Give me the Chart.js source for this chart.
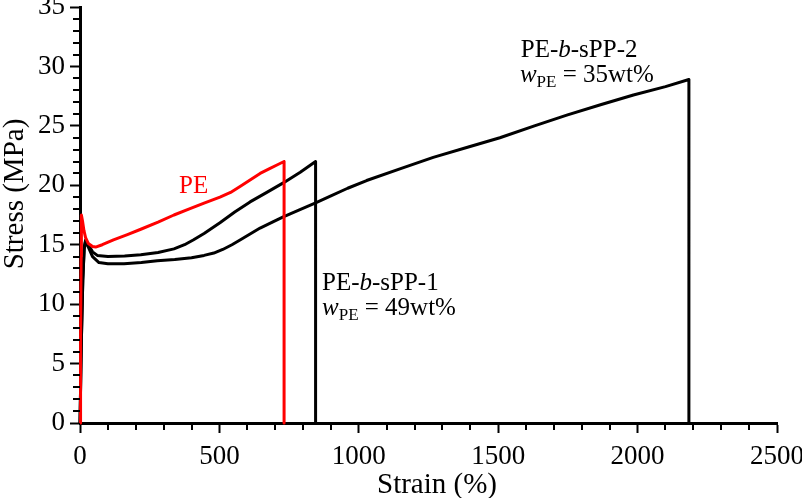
<!DOCTYPE html>
<html>
<head>
<meta charset="utf-8">
<script src="https://cdn.jsdelivr.net/npm/chart.js@4.4.0/dist/chart.umd.min.js"></script>
<style>
    body { margin: 0; background: #fff; }
    canvas { display: block; }
</style>
</head>
<body>
<canvas id="stressChart" width="802" height="498"></canvas>
<script>
// Datos: deformación (%) y tensión (MPa)
const peStrain = [0, 2, 4, 5, 9, 14, 20, 30, 45, 56, 80, 120, 170, 218, 280, 337, 390, 445, 502, 540, 574, 610, 646, 680, 710, 732, 732];
const peStress = [0, 7, 14, 17.5, 17.0, 16.2, 15.6, 15.1, 14.85, 14.8, 15.0, 15.4, 15.85, 16.3, 16.9, 17.5, 18.0, 18.5, 19.0, 19.4, 19.9, 20.45, 21.0, 21.4, 21.75, 22.0, 0];

const sPP1Strain = [0, 5, 10, 15, 20, 30, 45, 62, 100, 160, 218, 280, 337, 375, 406, 445, 502, 555, 610, 670, 729, 790, 845, 845];
const sPP1Stress = [0, 7, 12, 14.8, 15.4, 15.0, 14.4, 14.1, 14.0, 14.05, 14.15, 14.35, 14.65, 15.0, 15.4, 15.95, 16.85, 17.75, 18.6, 19.4, 20.2, 21.1, 22.0, 0];

const sPP2Strain = [0, 5, 10, 15, 20, 30, 45, 68, 100, 158, 220, 277, 340, 400, 445, 480, 512, 545, 574, 610, 646, 690, 729, 789, 843, 900, 960, 1028, 1150, 1267, 1390, 1506, 1630, 1746, 1870, 1985, 2100, 2184, 2184];
const sPP2Stress = [0, 7, 12, 14.6, 15.3, 14.8, 14.0, 13.5, 13.4, 13.4, 13.5, 13.65, 13.75, 13.9, 14.1, 14.3, 14.6, 15.0, 15.4, 15.9, 16.4, 16.9, 17.35, 17.95, 18.5, 19.1, 19.75, 20.4, 21.4, 22.35, 23.2, 24.0, 25.0, 25.9, 26.8, 27.6, 28.3, 28.9, 0];

const xTicks = [0, 500, 1000, 1500, 2000, 2500];
const yTicks = [0, 5, 10, 15, 20, 25, 30, 35];

const SERIF = "'Liberation Serif', 'Times New Roman', serif";

function toPoints(xs, ys) {
    return xs.map((x, i) => ({ x: x, y: ys[i] }));
}

// Textos de la figura, anclados en coordenadas de datos
const notes = [
    { x: 355, y: 19.37, color: '#ff0000', parts: [{ t: 'PE' }] },
    { x: 868, y: 11.23, color: '#000', parts: [{ t: 'PE-' }, { t: 'b', italic: true }, { t: '-sPP-1' }] },
    { x: 868, y: 9.09, color: '#000', parts: [{ t: 'w', italic: true }, { t: 'PE', sub: true }, { t: ' = 49wt%' }] },
    { x: 1581, y: 30.82, color: '#000', parts: [{ t: 'PE-' }, { t: 'b', italic: true }, { t: '-sPP-2' }] },
    { x: 1578, y: 28.71, color: '#000', parts: [{ t: 'w', italic: true }, { t: 'PE', sub: true }, { t: ' = 35wt%' }] }
];

// Plugin para ticks menores, títulos de ejes y anotaciones
const decorPlugin = {
    id: 'decor',
    afterDraw(chart) {
        const ctx = chart.ctx;
        const xs = chart.scales.x;
        const ys = chart.scales.y;
        const area = chart.chartArea;
        ctx.save();
        ctx.strokeStyle = '#000';
        ctx.lineWidth = 2;
        ctx.beginPath();
        for (let v = 100; v < 2500; v += 100) {
            if (v % 500 === 0) continue;
            const px = Math.round(xs.getPixelForValue(v));
            ctx.moveTo(px, area.bottom);
            ctx.lineTo(px, area.bottom + 7);
        }
        for (let v = 1; v < 35; v++) {
            if (v % 5 === 0) continue;
            const py = Math.round(ys.getPixelForValue(v));
            ctx.moveTo(area.left, py);
            ctx.lineTo(area.left - 7, py);
        }
        ctx.stroke();

        // Títulos de ejes
        ctx.fillStyle = '#000';
        ctx.font = '29px ' + SERIF;
        ctx.textAlign = 'center';
        ctx.textBaseline = 'alphabetic';
        ctx.fillText('Strain (%)', 437, 493);
        ctx.save();
        ctx.translate(23, 194);
        ctx.rotate(-Math.PI / 2);
        ctx.fillText('Stress (MPa)', 0, 0);
        ctx.restore();

        // Anotaciones
        ctx.textAlign = 'left';
        notes.forEach(n => {
            let px = xs.getPixelForValue(n.x);
            const py = ys.getPixelForValue(n.y);
            ctx.fillStyle = n.color;
            n.parts.forEach(p => {
                const size = p.sub ? 17 : 25;
                ctx.font = (p.italic ? 'italic ' : '') + size + 'px ' + SERIF;
                ctx.fillText(p.t, px, py + (p.sub ? 5 : 0));
                px += ctx.measureText(p.t).width;
            });
        });
        ctx.restore();
    }
};

const tickFont = { family: SERIF, size: 27 };

new Chart(document.getElementById('stressChart'), {
    type: 'scatter',
    data: {
        datasets: [{
            label: 'PE',
            data: toPoints(peStrain, peStress),
            borderColor: '#ff0000',
            showLine: true
        }, {
            label: 'PE-b-sPP-1',
            data: toPoints(sPP1Strain, sPP1Stress),
            borderColor: '#000',
            showLine: true
        }, {
            label: 'PE-b-sPP-2',
            data: toPoints(sPP2Strain, sPP2Stress),
            borderColor: '#000',
            showLine: true
        }]
    },
    options: {
        responsive: false,
        animation: false,
        layout: {
            padding: { top: 7, right: 25, left: 0, bottom: 0 }
        },
        elements: {
            point: { radius: 0, hoverRadius: 0 },
            line: { borderWidth: 3, tension: 0, fill: false, borderJoinStyle: 'round' }
        },
        datasets: {
            scatter: { clip: false }
        },
        plugins: {
            legend: { display: false },
            tooltip: { enabled: false }
        },
        scales: {
            x: {
                type: 'linear',
                min: 0,
                max: 2500,
                afterBuildTicks: scale => { scale.ticks = xTicks.map(v => ({ value: v })); },
                afterFit: scale => {
                    scale.height = 75;
                    scale.paddingLeft = 0;
                    scale.paddingRight = 0;
                },
                ticks: {
                    color: '#000',
                    font: tickFont,
                    padding: 8,
                    maxRotation: 0,
                    callback: v => String(v)
                },
                grid: {
                    drawOnChartArea: false,
                    drawTicks: true,
                    tickLength: 10,
                    tickWidth: 2,
                    color: '#000'
                },
                border: { display: true, width: 3, color: '#000' }
            },
            y: {
                type: 'linear',
                min: 0,
                max: 35,
                afterBuildTicks: scale => { scale.ticks = yTicks.map(v => ({ value: v })); },
                afterFit: scale => {
                    scale.width = 80;
                    scale.paddingTop = 0;
                    scale.paddingBottom = 0;
                },
                ticks: {
                    color: '#000',
                    font: tickFont,
                    padding: 5,
                    callback: v => String(v)
                },
                grid: {
                    drawOnChartArea: false,
                    drawTicks: true,
                    tickLength: 10,
                    tickWidth: 2,
                    color: '#000'
                },
                border: { display: true, width: 3, color: '#000' }
            }
        }
    },
    plugins: [decorPlugin]
});
</script>
</body>
</html>
